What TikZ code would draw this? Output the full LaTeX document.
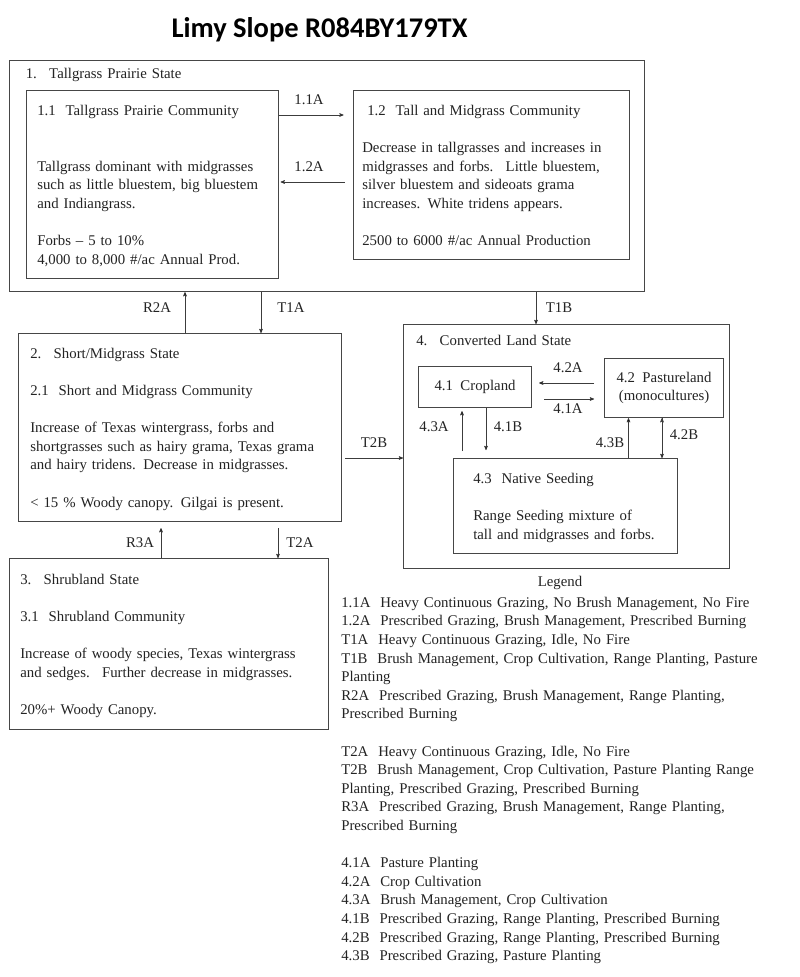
\documentclass[tikz,border=0pt]{standalone}
\usepackage{fontspec}
\setmainfont{Liberation Serif}
\newfontfamily\titlefont{Carlito}
\usetikzlibrary{arrows}
\newcommand\body{\fontsize{14.8}{18.6}\selectfont}
\definecolor{box_gray}{RGB}{70,70,70}
\definecolor{text_gray}{RGB}{35,35,35}
\definecolor{edge_gray}{RGB}{60,60,60}

\begin{document}
\begin{tikzpicture}[x=1pt,y=-1pt,->,semithick,>=stealth']
    \tikzstyle{box}=[draw=box_gray, line width=1.1pt, anchor=north west, inner sep=0pt, fill=none]
    \tikzstyle{txt}=[anchor=north west, inner sep=0pt, align=left, font=\body, text=text_gray]
    \tikzstyle{lbl}=[inner sep=0pt, font=\body, text=text_gray]
    \path[use as bounding box, fill=white] (0,0) rectangle (800,977);

    \node[font=\titlefont\bfseries\fontsize{28.5}{32}\selectfont, anchor=base] (title) at (319.5,37) {Limy Slope R084BY179TX};

    % state boxes
    \node[box, minimum width=635pt, minimum height=231pt] (s1) at (9,60)  {};
    \node[box, minimum width=323pt, minimum height=188pt] (s2) at (18,333) {};
    \node[box, minimum width=319pt, minimum height=171pt] (s3) at (9,558)  {};
    \node[box, minimum width=326pt, minimum height=244pt] (s4) at (403,324) {};
    % community boxes
    \node[box, minimum width=251.5pt, minimum height=188pt] (c11) at (26,90)   {};
    \node[box, minimum width=276pt,   minimum height=169pt] (c12) at (352.5,90) {};
    \node[box, minimum width=113pt, minimum height=41pt, font=\body, text=text_gray] (c41) at (418,366) {4.1~ Cropland};
    \node[box, minimum width=119pt, minimum height=59pt, font=\body, text=text_gray, align=center] (c42) at (604,358) {4.2~ Pastureland\\(monocultures)};
    \node[box, minimum width=224.5pt, minimum height=95pt] (c43) at (452.5,458) {};

    % texts
    \node[txt, text width=300pt] (t1) at (25.5,65) {\strut 1.~ Tallgrass Prairie State};
    \node[txt, text width=238pt] (t11) at (37,102) {\strut 1.1~ Tallgrass Prairie Community\\[37.2pt]
      Tallgrass dominant with midgrasses\\
      such as little bluestem, big bluestem\\
      and Indiangrass.\\[18.6pt]
      Forbs -- 5 to 10\%\\
      4,000 to 8,000 \#/ac Annual Prod.};
    \node[txt, text width=264pt] (t12) at (362,102) {\strut\hspace*{5pt}1.2~ Tall and Midgrass Community\\[18.6pt]
      Decrease in tallgrasses and increases in\\
      midgrasses and forbs.~ Little bluestem,\\
      silver bluestem and sideoats grama\\
      increases. White tridens appears.\\[18.6pt]
      2500 to 6000 \#/ac Annual Production};
    \node[txt, text width=308pt] (t2) at (30,345) {\strut 2.~ Short/Midgrass State\\[18.6pt]
      2.1~ Short and Midgrass Community\\[18.6pt]
      Increase of Texas wintergrass, forbs and\\
      shortgrasses such as hairy grama, Texas grama\\
      and hairy tridens. Decrease in midgrasses.\\[18.6pt]
      < 15 \% Woody canopy. Gilgai is present.};
    \node[txt, text width=306pt] (t3) at (20,571) {\strut 3.~ Shrubland State\\[18.6pt]
      3.1~ Shrubland Community\\[18.6pt]
      Increase of woody species, Texas wintergrass\\
      and sedges.~ Further decrease in midgrasses.\\[18.6pt]
      20\%+ Woody Canopy.};
    \node[txt, text width=300pt] (t4) at (416,332) {\strut 4.~ Converted Land State};
    \node[txt, text width=200pt] (t43) at (473,470) {\strut 4.3~ Native Seeding\\[18.6pt]
      Range Seeding mixture of\\
      tall and midgrasses and forbs.};

    % legend
    \node[lbl] (lgd) at (560,583) {Legend};
    \node[txt, text width=457pt] (leg) at (341,594) {\strut 1.1A~ Heavy Continuous Grazing, No Brush Management, No Fire\\
      1.2A~ Prescribed Grazing, Brush Management, Prescribed Burning\\
      T1A~ Heavy Continuous Grazing, Idle, No Fire\\
      T1B~ Brush Management, Crop Cultivation, Range Planting, Pasture\\
      Planting\\
      R2A~ Prescribed Grazing, Brush Management, Range Planting,\\
      Prescribed Burning\\[18.6pt]
      T2A~ Heavy Continuous Grazing, Idle, No Fire\\
      T2B~ Brush Management, Crop Cultivation, Pasture Planting Range\\
      Planting, Prescribed Grazing, Prescribed Burning\\
      R3A~ Prescribed Grazing, Brush Management, Range Planting,\\
      Prescribed Burning\\[18.6pt]
      4.1A~ Pasture Planting\\
      4.2A~ Crop Cultivation\\
      4.3A~ Brush Management, Crop Cultivation\\
      4.1B~ Prescribed Grazing, Range Planting, Prescribed Burning\\
      4.2B~ Prescribed Grazing, Range Planting, Prescribed Burning\\
      4.3B~ Prescribed Grazing, Pasture Planting};

    % transition labels
    \node[lbl] (l11a) at (309,100) {1.1A};
    \node[lbl] (l12a) at (309,167) {1.2A};
    \node[lbl] (lr2a) at (157,308) {R2A};
    \node[lbl] (lt1a) at (291,308) {T1A};
    \node[lbl] (lt1b) at (559,308) {T1B};
    \node[lbl] (lt2b) at (374,443) {T2B};
    \node[lbl] (lr3a) at (140,543) {R3A};
    \node[lbl] (lt2a) at (300,543) {T2A};
    \node[lbl] (l42a) at (568,368) {4.2A};
    \node[lbl] (l41a) at (568,409) {4.1A};
    \node[lbl] (l43a) at (434,427) {4.3A};
    \node[lbl] (l41b) at (508,427) {4.1B};
    \node[lbl] (l43b) at (610,443) {4.3B};
    \node[lbl] (l42b) at (684,435) {4.2B};

    \path[draw=edge_gray]
     ([yshift=-25pt]c11.north east) edge[shorten >=9pt] ([yshift=-25pt]c12.north west)
     ([yshift=-92pt]c12.north west) edge[shorten <=8pt, shorten >=2pt] ([yshift=-92pt]c11.north east)
     ([xshift=167pt]s2.north west) edge ([xshift=176pt]s1.south west)
     ([xshift=252pt]s1.south west) edge ([xshift=243pt]s2.north west)
     ([xshift=527pt]s1.south west) edge ([xshift=133pt]s4.north west)
     ([yshift=-125pt]s2.north east) edge[shorten <=3pt] ([yshift=-134pt]s4.north west)
     ([xshift=152pt]s3.north west) edge[shorten >=6pt] ([xshift=143pt]s2.south west)
     ([xshift=260pt]s2.south west) edge[shorten <=6pt] ([xshift=269pt]s3.north west)
     ([yshift=-25pt]c42.north west) edge[shorten <=10pt, shorten >=7pt] ([yshift=-17pt]c41.north east)
     ([yshift=-33pt]c41.north east) edge[shorten <=12pt, shorten >=10pt] ([yshift=-41pt]c42.north west)
     ([xshift=9.5pt]c43.north west) edge[shorten <=7pt, shorten >=3pt] ([xshift=44pt]c41.south west)
     ([xshift=68pt]c41.south west) edge[shorten >=8pt] ([xshift=33.5pt]c43.north west)
     ([xshift=176pt]c43.north west) edge ([xshift=24.5pt]c42.south west)
     ([xshift=58pt]c42.south west) edge ([xshift=209.5pt]c43.north west)
     ;
\end{tikzpicture}
\end{document}
